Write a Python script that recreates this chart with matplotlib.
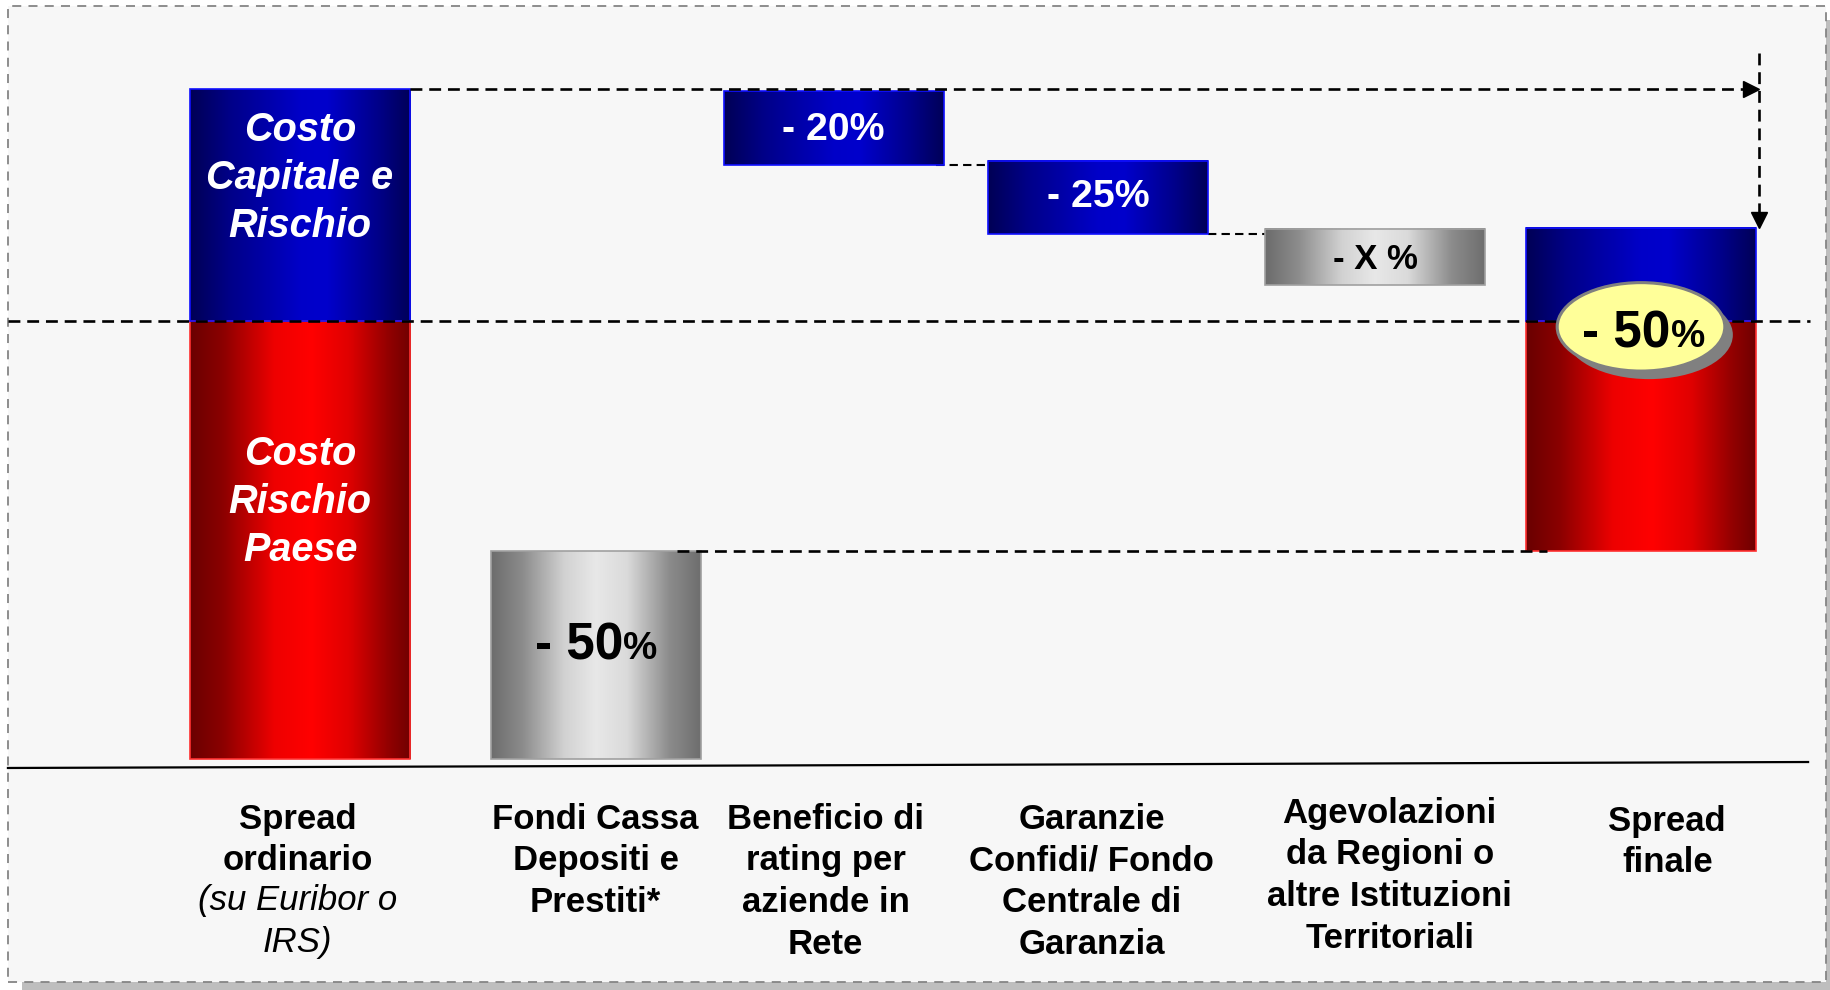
import numpy as np
import matplotlib
matplotlib.use("Agg")
import matplotlib.pyplot as plt
from matplotlib.colors import LinearSegmentedColormap
from matplotlib.patches import Rectangle, Ellipse
from matplotlib.offsetbox import TextArea, HPacker, AnnotationBbox

# ---------------- data ----------------
categories = [
    "Spread\nordinario",
    "Fondi Cassa\nDepositi e\nPrestiti*",
    "Beneficio di\nrating per\naziende in\nRete",
    "Garanzie\nConfidi/ Fondo\nCentrale di\nGaranzia",
    "Agevolazioni\nda Regioni o\naltre Istituzioni\nTerritoriali",
    "Spread\nfinale",
]
category_note = "(su Euribor o\nIRS)"

# segments of the waterfall (spread ordinario = 100)
seg_cat = [0, 0, 1, 2, 3, 4, 5, 5]
seg_bottom = [0.0, 65.4, 0.0, 88.7, 78.4, 70.7, 31.0, 65.4]
seg_top = [65.4, 100.0, 31.0, 99.7, 89.3, 79.1, 65.4, 79.3]
seg_kind = ["red", "blue", "gray", "blue", "blue", "gray", "red", "blue"]
seg_label = ["Costo\nRischio\nPaese", "Costo\nCapitale e\nRischio", "- 50%",
             "- 20%", "- 25%", "- X %", "", ""]
final_label = "- 50%"

# ---------------- layout / style ----------------
x_pos = [0.0, 1.104, 1.99, 2.975, 4.008, 5.0]
bar_w = [0.824, 0.78, 0.82, 0.82, 0.82, 0.854]
label_x = [-0.008, 1.102, 1.96, 2.952, 4.063, 5.098]
label_dy = [0, 0, 0, 0, 0.9, -0.3]
seg_text_dy = [5.6, 4.0, 1.4, -0.3, 0.0, -0.3, 0, 0]
seg_text_style = [
    dict(size=28.5, color="white", weight="bold", style="italic"),
    dict(size=28.5, color="white", weight="bold", style="italic"),
    dict(size=37, color="black", weight="bold"),
    dict(size=28.3, color="white", weight="bold"),
    dict(size=28.3, color="white", weight="bold"),
    dict(size=25, color="black", weight="bold"),
    None, None,
]
FONT = ["Liberation Sans", "DejaVu Sans"]

cmaps = {
    "blue": LinearSegmentedColormap.from_list("b", [
        (0.0, "#000055"), (0.18, "#000088"), (0.5, "#0000C8"),
        (0.62, "#0000CC"), (0.85, "#00008A"), (1.0, "#000058")]),
    "red": LinearSegmentedColormap.from_list("r", [
        (0.0, "#6A0000"), (0.15, "#8C0000"), (0.38, "#EE0000"),
        (0.55, "#FF0000"), (0.72, "#E00000"), (0.9, "#920000"), (1.0, "#700000")]),
    "gray": LinearSegmentedColormap.from_list("g", [
        (0.0, "#6C6C6C"), (0.15, "#8C8C8C"), (0.35, "#D2D2D2"),
        (0.5, "#E8E8E8"), (0.65, "#DADADA"), (0.85, "#8C8C8C"), (1.0, "#6E6E6E")]),
}
edges = {"blue": "#1010FF", "red": "#FF3030", "gray": "#A0A0A0"}

W, H = 1831, 990
fig = plt.figure(figsize=(W / 100, H / 100), dpi=100, facecolor="white")

# panel background, shadow and dashed border (figure decoration)
def fx(px):
    return px / W

def fy(py):
    return 1 - py / H

shadow = Rectangle((fx(22), fy(990)), fx(1831) - fx(22), fy(20) - fy(990),
                   transform=fig.transFigure, facecolor="#BEBEBE",
                   edgecolor="none", zorder=-3)
fig.add_artist(shadow)
panel = Rectangle((fx(8), fy(982)), fx(1826) - fx(8), fy(6) - fy(982),
                  transform=fig.transFigure, facecolor="#F7F7F7",
                  edgecolor="#858585", linewidth=1.3, linestyle=(0, (5, 4)),
                  zorder=-2)
fig.add_artist(panel)

ax = fig.add_axes([0, 0, 1, 1])
ax.patch.set_alpha(0)
ax.set_axis_off()

grad = np.linspace(0, 1, 256).reshape(1, -1)

for i in range(len(seg_cat)):
    c = seg_cat[i]
    x0 = x_pos[c] - bar_w[c] / 2
    x1 = x_pos[c] + bar_w[c] / 2
    y0, y1 = seg_bottom[i], seg_top[i]
    k = seg_kind[i]
    ax.imshow(grad, cmap=cmaps[k], extent=[x0, x1, y0, y1], aspect="auto",
              interpolation="bilinear", zorder=2)
    ax.add_patch(Rectangle((x0, y0), x1 - x0, y1 - y0, facecolor="none",
                           edgecolor=edges[k], linewidth=1.2, zorder=3))


def pct_label(x, y, text, size, color, small_ratio=0.75, zorder=8):
    main, pct = text[:-1], text[-1]
    t1 = TextArea(main, textprops=dict(size=size, color=color, weight="bold",
                                       family=FONT))
    t2 = TextArea(pct, textprops=dict(size=size * small_ratio, color=color,
                                      weight="bold", family=FONT))
    box = HPacker(children=[t1, t2], align="baseline", pad=0, sep=0)
    ab = AnnotationBbox(box, (x, y), frameon=False, box_alignment=(0.5, 0.5),
                        pad=0, zorder=zorder)
    ax.add_artist(ab)


for i in range(len(seg_cat)):
    if not seg_label[i]:
        continue
    c = seg_cat[i]
    xc = x_pos[c]
    yc = (seg_bottom[i] + seg_top[i]) / 2 + seg_text_dy[i]
    st = seg_text_style[i]
    if seg_kind[i] == "gray" and seg_cat[i] == 1:
        pct_label(xc, yc, seg_label[i], st["size"], st["color"])
    else:
        ax.text(xc, yc, seg_label[i], ha="center", va="center",
                family=FONT, linespacing=1.33, zorder=6, **st)

# dashed guide lines
dash_kw = dict(color="black", linewidth=1.9, linestyle=(0, (4.5, 2.6)),
               zorder=7, solid_capstyle="butt")
# reference line at the split between the two cost components
ax.plot([-1.089, 5.63], [seg_bottom[1], seg_bottom[1]], **dash_kw)
# top arrow: from top of spread ordinario to final column
tip_x = 5.44
ax.plot([x_pos[0] + bar_w[0] / 2, tip_x - 0.03], [seg_top[1], seg_top[1]],
        **dash_kw)
ax.plot([tip_x - 0.028], [seg_top[1]], marker=">", color="black",
        markersize=12, zorder=8, linestyle="none")
ax.plot([tip_x, tip_x], [105.4, seg_top[7] + 1.0], **dash_kw)
ax.plot([tip_x], [seg_top[7] + 1.1], marker="v", color="black",
        markersize=12, zorder=8, linestyle="none")
# line at the level after CDP funds
ax.plot([1.406, 4.65], [seg_top[2], seg_top[2]], **dash_kw)
# connectors between reduction steps
con_kw = dict(color="black", linewidth=1.5, linestyle=(0, (4, 2.5)), zorder=1)
ax.plot([x_pos[2] + bar_w[2] / 2 - 0.03, x_pos[3] - bar_w[3] / 2 + 0.03],
        [seg_bottom[3], seg_bottom[3]], **con_kw)
ax.plot([x_pos[3] + bar_w[3] / 2, x_pos[4] - bar_w[4] / 2],
        [seg_bottom[4], seg_bottom[4]], **con_kw)

# ellipse with final reduction
ell_x, ell_y = x_pos[5], 64.5
ax.add_patch(Ellipse((ell_x + 0.03, ell_y - 1.2), 0.625, 13.2,
                     facecolor="#808080", edgecolor="none", zorder=9))
ax.add_patch(Ellipse((ell_x, ell_y), 0.625, 13.2, facecolor="#FFFF99",
                     edgecolor="#808080", linewidth=2.2, zorder=10))
pct_label(ell_x + 0.01, ell_y - 1.0, final_label, 37, "black", zorder=11)

# baseline (slightly slanted as in the original)
ax.plot([-1.089, 5.623], [-1.34, -0.45], color="black", linewidth=1.6,
        zorder=5)

# category labels
label_top = -6.5
for i, lab in enumerate(categories):
    ax.text(label_x[i], label_top + label_dy[i], lab, ha="center", va="top",
            size=25, weight="bold", family=FONT, linespacing=1.34,
            color="black")
ax.text(label_x[0], label_top - 12.2, category_note, ha="center", va="top",
        size=25, style="italic", family=FONT, linespacing=1.34,
        color="black")

ax.set_xlim(-300 / 268.2, (W - 300) / 268.2)
ax.set_ylim(-(H - 759) / 6.7, 759 / 6.7)

fig.savefig("out.png", dpi=100, facecolor="white")
